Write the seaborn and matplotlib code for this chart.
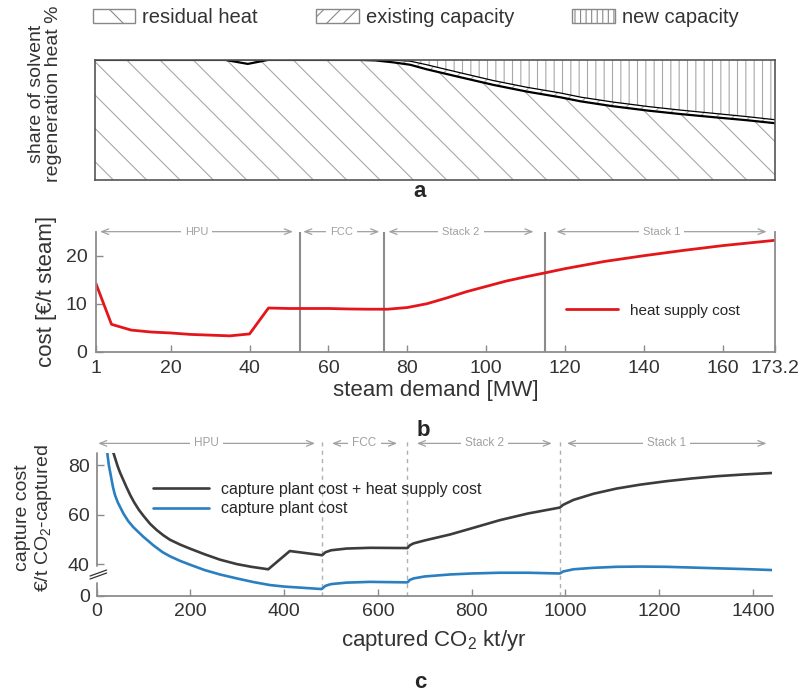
import matplotlib
matplotlib.use("Agg")
import matplotlib.pyplot as plt
from matplotlib.patches import Patch
import seaborn as sns

sns.set_style("white")
plt.rcParams['font.family'] = ['Liberation Sans', 'DejaVu Sans']
plt.rcParams['mathtext.fontset'] = 'custom'
plt.rcParams['mathtext.rm'] = 'Liberation Sans'
plt.rcParams['mathtext.default'] = 'regular'
plt.rcParams['hatch.linewidth'] = 0.8

# --- data: panel a (share of regeneration heat, %) ---
share_x = [1, 34, 39.7, 44.8, 68, 72, 76.5, 80.8, 85, 93.5, 101.9, 110.4, 118.8,
           124, 132, 141, 149, 158, 166, 173.2]
residual_top = [100, 100, 96.7, 100, 100, 99.6, 98, 96, 92.2, 85.6, 79.2, 73.6, 68.9,
                65.5, 61.5, 57.8, 55, 52.2, 49.8, 47.3]
existing_top = [100, 100, 100, 100, 100, 100, 99.8, 99, 96, 89.3, 82.8, 77.2, 72.5,
                69, 65, 61.2, 58.3, 55.4, 52.8, 50.2]

# --- data: panel b (heat supply cost) ---
steam_x = [1, 5, 10, 15, 20, 25, 30, 35, 40, 44.8, 50, 55, 60, 65, 70, 75, 80, 85, 90,
           95, 100, 105, 110, 114.8, 120, 130, 140, 150, 160, 173.2]
heat_cost = [14.3, 5.7, 4.5, 4.1, 3.9, 3.6, 3.45, 3.3, 3.7, 9.1, 9.0, 9.0, 9.0, 8.9, 8.85,
             8.85, 9.2, 10.0, 11.2, 12.5, 13.6, 14.7, 15.6, 16.4, 17.3, 18.8, 20.0, 21.1,
             22.1, 23.2]
steam_bounds = [52.7, 74, 114.8]
steam_ticks = [1, 20, 40, 60, 80, 100, 120, 140, 160, 173.2]
steam_tick_labels = ["1", "20", "40", "60", "80", "100", "120", "140", "160", "173.2"]
spans_b = [("HPU", 2.1, 51), ("FCC", 53.6, 72.9), ("Stack 2", 75.2, 112),
           ("Stack 1", 117.8, 171.1)]

# --- data: panel c (capture cost) ---
total_x = [35, 40, 45, 50, 57, 64, 72, 80, 90, 100, 114, 128, 142, 156, 178, 200, 230,
           263, 299, 330, 366, 412, 481, 488, 500, 533, 583, 663, 668, 676, 700, 754,
           800, 860, 920, 988, 995, 1017, 1060, 1109, 1160, 1216, 1270, 1323, 1380, 1440]
total_cost = [85.5, 82.5, 79.5, 77, 74, 71, 67.8, 65, 62, 59.5, 56.3, 53.8, 51.7, 49.9,
              47.9, 46.2, 44, 41.8, 40, 38.9, 37.9, 45.3, 43.6, 44.8, 45.6, 46.3, 46.6,
              46.5, 47.6, 48.4, 49.6, 52, 54.5, 57.8, 60.5, 62.9, 64, 66, 68.5, 70.6,
              72.2, 73.6, 74.7, 75.6, 76.3, 76.9]
plant_x = [22.6, 26, 30, 35, 39, 45, 57, 67, 78, 90, 100, 121, 140, 156, 178, 200, 230,
           263, 299, 335, 370, 400, 440, 480, 488, 500, 533, 583, 663, 668, 676, 700,
           754, 800, 860, 920, 988, 995, 1017, 1060, 1109, 1160, 1216, 1270, 1323, 1380,
           1440]
plant_cost = [85, 80, 76, 71, 68, 65, 60.5, 57.5, 55, 52.8, 51, 47.6, 44.9, 43.2, 41.3,
              39.7, 37.6, 35.8, 34.2, 32.7, 31.5, 30.9, 30.4, 29.9, 31.2, 31.9, 32.5,
              32.8, 32.6, 33.6, 34.2, 35.0, 35.8, 36.2, 36.5, 36.5, 36.2, 37.0, 37.9,
              38.5, 38.9, 39.0, 38.9, 38.6, 38.3, 38.0, 37.6]
capt_bounds = [481, 662.7, 988.5]
capt_ticks = [0, 200, 400, 600, 800, 1000, 1200, 1400]
cost_ticks = [27.2, 40, 60, 80]
cost_tick_labels = ["0", "40", "60", "80"]
spans_c = [("HPU", 3, 466), ("FCC", 502, 641), ("Stack 2", 683, 971),
           ("Stack 1", 1003, 1429)]

GRAY = "#8c8c8c"
TXT = "#333333"


def draw_span(ax, label, x0, x1, y, fs):
    ax.annotate("", xy=(x0, y), xytext=(x1, y), annotation_clip=False,
                arrowprops=dict(arrowstyle="<->,head_length=0.5,head_width=0.2",
                                color="#a0a0a0", lw=0.9, shrinkA=0, shrinkB=0))
    ax.text((x0 + x1) / 2, y, label, ha="center", va="center", fontsize=fs,
            color="#a0a0a0", clip_on=False,
            bbox=dict(facecolor="white", edgecolor="none", pad=3))


fig = plt.figure(figsize=(8.01, 6.93), dpi=100)
ax_a = fig.add_axes([0.1186, 0.7403, 0.849, 0.1732])
ax_b = fig.add_axes([0.1195, 0.4925, 0.848, 0.1732])
ax_c = fig.add_axes([0.1207, 0.1404, 0.8427, 0.2059])

# ---------------- panel a ----------------
ax_a.fill_between(share_x, 0, residual_top, facecolor="white", edgecolor="#a8a8a8",
                  hatch="\\", linewidth=0)
ax_a.fill_between(share_x, residual_top, existing_top, facecolor="white",
                  edgecolor="#a8a8a8", hatch="//", linewidth=0)
ax_a.fill_between(share_x, existing_top, 100, facecolor="white", edgecolor="#a8a8a8",
                  hatch="||", linewidth=0)
sns.lineplot(x=share_x, y=residual_top, ax=ax_a, color="black", linewidth=1.6)
sns.lineplot(x=share_x, y=existing_top, ax=ax_a, color="black", linewidth=0.9)
ax_a.set_xlim(1, 173.2)
ax_a.set_ylim(0, 100)
ax_a.set_xticks([])
ax_a.set_yticks([])
for s in ax_a.spines.values():
    s.set_color("#555555")
    s.set_linewidth(1.2)

handles = [Patch(facecolor="white", edgecolor="#888888", hatch="\\", lw=1),
           Patch(facecolor="white", edgecolor="#888888", hatch="//", lw=1),
           Patch(facecolor="white", edgecolor="#888888", hatch="|||", lw=1)]
fig.legend(handles, ["residual heat", "existing capacity", "new capacity"], ncol=3,
           loc="upper left", bbox_to_anchor=(93 / 801, 1 - 8 / 693), frameon=False,
           fontsize=14.5, handlelength=2.1, handleheight=0.75, handletextpad=0.35,
           columnspacing=2.9, borderpad=0, borderaxespad=0, labelcolor=TXT)
fig.text(45 / 801, 1 - 94 / 693, "share of solvent\nregeneration heat %", rotation=90,
         ha="center", va="center", fontsize=14, color=TXT, linespacing=1.05)
fig.text(420 / 801, 1 - 192 / 693, "a", ha="center", va="center", fontsize=16,
         fontweight="bold")

# ---------------- panel b ----------------
for xb in steam_bounds:
    ax_b.axvline(xb, color=GRAY, lw=1.5)
sns.lineplot(x=steam_x, y=heat_cost, ax=ax_b, color="#e3171b", linewidth=2.0,
             label="heat supply cost")
ax_b.set_xlim(1, 173.2)
ax_b.set_ylim(0, 25)
ax_b.set_xticks(steam_ticks)
ax_b.set_xticklabels(steam_tick_labels)
ax_b.set_yticks([0, 10, 20])
ax_b.spines["top"].set_visible(False)
for k in ["left", "bottom", "right"]:
    ax_b.spines[k].set_color(GRAY)
    ax_b.spines[k].set_linewidth(1.3)
ax_b.tick_params(direction="in", length=5, width=1, color=GRAY, labelcolor=TXT,
                 labelsize=14, pad=6, bottom=True, left=True)
ax_b.set_xlabel("steam demand [MW]", fontsize=16, color=TXT, labelpad=2)
ax_b.set_ylabel("cost [€/t steam]", fontsize=16, color=TXT, labelpad=6)
ax_b.legend(loc="center left", bbox_to_anchor=(0.693, 0.342), frameon=False,
            fontsize=11, handlelength=3.4, handletextpad=0.75, borderpad=0,
            borderaxespad=0)
for lab, x0, x1 in spans_b:
    draw_span(ax_b, lab, x0, x1, 25, 8)
fig.text(423 / 801, 1 - 430 / 693, "b", ha="center", va="center", fontsize=16,
         fontweight="bold")

# ---------------- panel c ----------------
for xb in capt_bounds:
    ax_c.axvline(xb, ymin=0, ymax=1.09, color="#b0b0b0", lw=1, ls=(0, (3, 3)),
                 clip_on=False)
sns.lineplot(x=total_x, y=total_cost, ax=ax_c, color="#3c3c3c", linewidth=1.9,
             label="capture plant cost + heat supply cost")
sns.lineplot(x=plant_x, y=plant_cost, ax=ax_c, color="#2a7fc0", linewidth=1.9,
             label="capture plant cost")
ax_c.set_xlim(0, 1440)
ax_c.set_ylim(27.2, 85)
ax_c.set_xticks(capt_ticks)
ax_c.set_yticks(cost_ticks)
ax_c.set_yticklabels(cost_tick_labels)
ax_c.spines["top"].set_visible(False)
ax_c.spines["right"].set_visible(False)
ax_c.spines["left"].set_visible(False)
ax_c.spines["bottom"].set_color(GRAY)
ax_c.spines["bottom"].set_linewidth(1.3)
# broken y axis
ax_c.plot([0, 0], [0, 0.089], transform=ax_c.transAxes, color=GRAY, lw=1.3,
          clip_on=False)
ax_c.plot([0, 0], [0.208, 1], transform=ax_c.transAxes, color=GRAY, lw=1.3,
          clip_on=False)
ax_c.plot([-0.0099, 0.0148], [0.117, 0.159], transform=ax_c.transAxes, color=TXT,
          lw=0.9, clip_on=False)
ax_c.plot([-0.0099, 0.0148], [0.138, 0.180], transform=ax_c.transAxes, color=TXT,
          lw=0.9, clip_on=False)
ax_c.tick_params(direction="in", length=5, width=1, color=GRAY, labelcolor=TXT,
                 labelsize=14, pad=5, bottom=True, left=True)
ax_c.set_xlabel("captured CO$_2$ kt/yr", fontsize=16, color=TXT, labelpad=6)
ax_c.legend(loc="upper left", bbox_to_anchor=(0.083, 0.80), frameon=False,
            fontsize=11.5, handlelength=3.55, handletextpad=0.7, labelspacing=0.3,
            borderpad=0, borderaxespad=0)
for lab, x0, x1 in spans_c:
    draw_span(ax_c, lab, x0, x1, 88.9, 8.5)
fig.text(34 / 801, 1 - 518 / 693, "capture cost\n€/t CO$_2$-captured", rotation=90,
         ha="center", va="center", fontsize=14, color=TXT, linespacing=1.1)
fig.text(420 / 801, 1 - 683 / 693, "c", ha="center", va="center", fontsize=16,
         fontweight="bold")

fig.savefig("out.png", dpi=100)
